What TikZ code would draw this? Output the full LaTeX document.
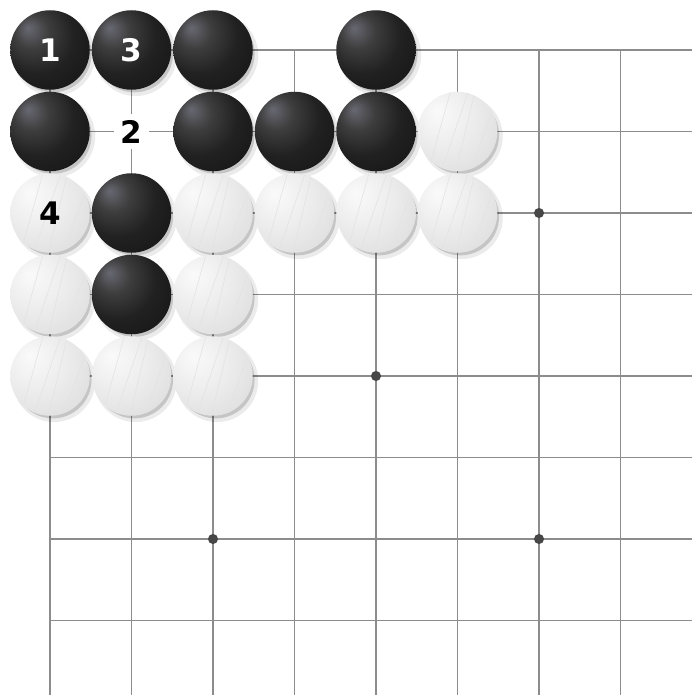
\documentclass[tikz,border=0pt]{standalone}
\usepackage{fontspec}
\newfontfamily\movefont{DejaVu Sans}
\usetikzlibrary{calc}

\definecolor{blackshine}{RGB}{104,104,114}
\pgfdeclareradialshading{blackball}{\pgfpoint{-14bp}{14bp}}{%
  color(0bp)=(blackshine); color(11bp)=(black!76); color(24bp)=(black!87);
  color(42bp)=(black!92); color(66bp)=(black!97)}
\pgfdeclareradialshading{whiteball}{\pgfpoint{-13bp}{13bp}}{%
  color(0bp)=(black!2); color(18bp)=(black!7); color(38bp)=(black!13);
  color(54bp)=(black!23); color(66bp)=(black!38)}

\tikzset{
  stone/.style={circle, inner sep=0pt, minimum size=1.395cm,
    font=\movefont\bfseries\fontsize{15.5}{16}\selectfont},
  blackstone/.style={stone, shading=blackball, text=white},
  whitestone/.style={stone, shading=whiteball, text=black,
    path picture={
      \foreach \t/\s in {-.36/.28,-.2/.34,-.02/.24,.16/.36,.33/.26}
        \draw[black!11, line width=.3pt]
          ($(path picture bounding box.south)+(\t,0)$) -- ++(\s,1);
    }},
  movelabel/.style={fill=white, inner sep=0pt, minimum size=.6cm,
    font=\movefont\bfseries\fontsize{15.5}{16}\selectfont},
  gridline/.style={black!45, line width=.7pt},
  starpoint/.style={fill=black!72}
}

\begin{document}
\begin{tikzpicture}[x=1.43cm, y=1.43cm]
        \useasboundingbox (-.6135,.6135) rectangle (7.877,-7.914);

        % board
        \foreach \i in {0,...,7} {
          \draw[gridline] (\i,0) -- (\i,-7.914);
          \draw[gridline] (0,-\i) -- (7.877,-\i);
        }
        \foreach \x/\y in {6/-2, 4/-4, 2/-6, 6/-6}
          \fill[starpoint] (\x,\y) circle (.062);

        % shadows
        \foreach \x/\y in {0/0,1/0,2/0,4/0,0/-1,2/-1,3/-1,4/-1,5/-1,0/-2,1/-2,2/-2,
                           3/-2,4/-2,5/-2,0/-3,1/-3,2/-3,0/-4,1/-4,2/-4} {
          \fill[black, opacity=.08] ([shift={(.05,-.06)}]\x,\y) circle (.505);
          \fill[black, opacity=.16] ([shift={(.035,-.045)}]\x,\y) circle (.475);
        }

        % black
        \node[blackstone] (b1) at (0,0) {1};
        \node[blackstone] (b3) at (1,0) {3};
        \node[blackstone] (ba) at (2,0) {};
        \node[blackstone] (bb) at (4,0) {};
        \node[blackstone] (bc) at (0,-1) {};
        \node[blackstone] (bd) at (2,-1) {};
        \node[blackstone] (be) at (3,-1) {};
        \node[blackstone] (bf) at (4,-1) {};
        \node[blackstone] (bg) at (1,-2) {};
        \node[blackstone] (bh) at (1,-3) {};

        % white
        \node[whitestone] (wa) at (5,-1) {};
        \node[whitestone] (w4) at (0,-2) {4};
        \node[whitestone] (wb) at (2,-2) {};
        \node[whitestone] (wc) at (3,-2) {};
        \node[whitestone] (wd) at (4,-2) {};
        \node[whitestone] (we) at (5,-2) {};
        \node[whitestone] (wf) at (0,-3) {};
        \node[whitestone] (wg) at (2,-3) {};
        \node[whitestone] (wh) at (0,-4) {};
        \node[whitestone] (wi) at (1,-4) {};
        \node[whitestone] (wj) at (2,-4) {};

        \node[movelabel] (m2) at (1,-1) {2};
\end{tikzpicture}
\end{document}
